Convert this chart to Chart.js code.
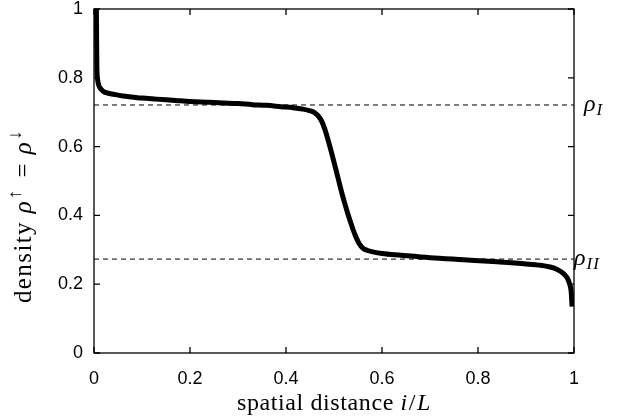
<!DOCTYPE html>
<html>
<head>
<meta charset="utf-8">
<script src="https://cdn.jsdelivr.net/npm/chart.js@4/dist/chart.umd.min.js"></script>
<style>
  html, body { margin: 0; padding: 0; background: #fff; }
  #wrap { width: 618px; height: 418px; }
</style>
</head>
<body>
<div id="wrap"><canvas id="density-chart" width="618" height="418"></canvas></div>
<script>
/*////////////////////////////////
///           Data             ///
////////////////////////////////*/

const posX = [0.005, 0.0055, 0.006, 0.0075, 0.010, 0.014, 0.020, 0.030, 0.045, 0.060, 0.080, 0.100, 0.130,
  0.170, 0.200, 0.240, 0.270, 0.300, 0.330, 0.360, 0.390, 0.415, 0.435, 0.450, 0.460, 0.468, 0.475,
  0.481, 0.4875, 0.495, 0.502, 0.510, 0.517, 0.523, 0.529, 0.537, 0.544, 0.552, 0.560, 0.570, 0.581,
  0.600, 0.640, 0.700, 0.770, 0.840, 0.900, 0.930, 0.950, 0.965, 0.977, 0.986, 0.991, 0.994, 0.996];
const density = [1.0, 0.90, 0.83, 0.795, 0.778, 0.768, 0.760, 0.755, 0.751, 0.747, 0.744, 0.741, 0.738,
  0.734, 0.731, 0.729, 0.727, 0.725, 0.722, 0.720, 0.716, 0.713, 0.709, 0.704, 0.698, 0.688, 0.672,
  0.650, 0.620, 0.582, 0.544, 0.500, 0.462, 0.432, 0.404, 0.370, 0.343, 0.319, 0.305, 0.298, 0.294,
  0.289, 0.284, 0.277, 0.271, 0.265, 0.259, 0.255, 0.250, 0.243, 0.232, 0.218, 0.200, 0.180, 0.135];

const rhoI = 0.721;
const rhoII = 0.273;

const xTicks = [0, 0.2, 0.4, 0.6, 0.8, 1];
const yTicks = [0, 0.2, 0.4, 0.6, 0.8, 1];

const profile = posX.map((x, i) => ({ x: x, y: density[i] }));
const lineI = [{ x: 0, y: rhoI }, { x: 1, y: rhoI }];
const lineII = [{ x: 0, y: rhoII }, { x: 1, y: rhoII }];

const sansFont = '"Liberation Sans", Arial, sans-serif';
const serifFont = '"Liberation Serif", "Times New Roman", serif';

/*////////////////////////////////
///    Frame, ticks, labels    ///
////////////////////////////////*/

function fmt(v) {
  return v === 0 || v === 1 ? String(v) : v.toFixed(1);
}

// draws text pieces [text, size, italic, dy, gap] in a row
function drawPieces(ctx, pieces, x, y) {
  let cx = x;
  pieces.forEach(p => {
    ctx.font = (p[2] ? 'italic ' : '') + p[1] + 'px ' + serifFont;
    ctx.fillText(p[0], cx, y + (p[3] || 0));
    cx += ctx.measureText(p[0]).width + (p[4] || 0);
  });
  return cx;
}

function piecesWidth(ctx, pieces) {
  let w = 0;
  pieces.forEach(p => {
    ctx.font = (p[2] ? 'italic ' : '') + p[1] + 'px ' + serifFont;
    w += ctx.measureText(p[0]).width + (p[4] || 0);
  });
  return w;
}

const framePlugin = {
  id: 'frame',
  afterDraw(chart) {
    const ctx = chart.ctx;
    const area = chart.chartArea;
    const xs = chart.scales.x;
    const ys = chart.scales.y;
    const tl = 6;

    ctx.save();
    ctx.strokeStyle = '#000';
    ctx.lineWidth = 1.3;
    ctx.strokeRect(area.left, area.top, area.right - area.left, area.bottom - area.top);

    ctx.beginPath();
    xTicks.forEach(v => {
      const px = xs.getPixelForValue(v);
      ctx.moveTo(px, area.bottom); ctx.lineTo(px, area.bottom - tl);
      ctx.moveTo(px, area.top); ctx.lineTo(px, area.top + tl);
    });
    yTicks.forEach(v => {
      const py = ys.getPixelForValue(v);
      ctx.moveTo(area.left, py); ctx.lineTo(area.left + tl, py);
      ctx.moveTo(area.right, py); ctx.lineTo(area.right - tl, py);
    });
    ctx.stroke();

    // labels of the two plateau densities
    ctx.fillStyle = '#000';
    ctx.textBaseline = 'alphabetic';
    ctx.textAlign = 'left';
    drawPieces(ctx, [['ρ', 24, true, 0, 1], ['I', 17, true, 4]], 584, ys.getPixelForValue(rhoI) + 6);
    drawPieces(ctx, [['ρ', 24, true, 0, 1], ['I', 17, true, 4, 1], ['I', 17, true, 4]], 574, ys.getPixelForValue(rhoII) + 6);

    // x axis title
    ctx.letterSpacing = '0.6px';
    const xt = [['spatial distance ', 24, false], ['i', 24, true, 0, 1], ['/', 24, false, 0, 1], ['L', 24, true]];
    const xw = piecesWidth(ctx, xt);
    drawPieces(ctx, xt, (area.left + area.right) / 2 - xw / 2, 410);

    // y axis title, rotated
    ctx.letterSpacing = '1.4px';
    const yt = [['density ', 25, false], ['ρ', 25, true, 0, 1], ['↑', 19, false, -10, 3],
      [' = ', 25, false], ['ρ', 25, true, 0, 1], ['↓', 19, false, -10]];
    const yw = piecesWidth(ctx, yt);
    ctx.translate(31, 216);
    ctx.rotate(-Math.PI / 2);
    drawPieces(ctx, yt, -yw / 2, 0);
    ctx.restore();
  }
};

/*////////////////////////////////
///          Chart             ///
////////////////////////////////*/

let canvas = document.getElementById('density-chart').getContext('2d');

let densityChart = new Chart(canvas, {
  type: 'line',
  data: {
    datasets: [{
      label: 'profile',
      data: profile,
      borderColor: '#000',
      borderWidth: 5,
      pointRadius: 0,
      fill: false,
      cubicInterpolationMode: 'monotone',
      borderCapStyle: 'butt'
    }, {
      label: 'rhoI',
      data: lineI,
      borderColor: '#000',
      borderWidth: 1,
      borderDash: [5, 4],
      pointRadius: 0,
      fill: false
    }, {
      label: 'rhoII',
      data: lineII,
      borderColor: '#000',
      borderWidth: 1,
      borderDash: [5, 4],
      pointRadius: 0,
      fill: false
    }]
  },
  options: {
    responsive: false,
    animation: false,
    layout: {
      padding: { top: 9, right: 44, left: 0, bottom: 0 }
    },
    scales: {
      x: {
        type: 'linear',
        min: 0,
        max: 1,
        afterFit: (scale) => { scale.height = 65; scale.paddingLeft = 0; scale.paddingRight = 0; },
        afterBuildTicks: (scale) => { scale.ticks = xTicks.map(v => ({ value: v })); },
        grid: { display: false, drawTicks: false },
        border: { display: false },
        ticks: {
          color: '#000',
          padding: 15,
          font: { family: sansFont, size: 18 },
          callback: (v) => fmt(v)
        }
      },
      y: {
        type: 'linear',
        min: 0,
        max: 1,
        afterFit: (scale) => { scale.width = 94; scale.paddingTop = 0; scale.paddingBottom = 0; },
        afterBuildTicks: (scale) => { scale.ticks = yTicks.map(v => ({ value: v })); },
        grid: { display: false, drawTicks: false },
        border: { display: false },
        ticks: {
          color: '#000',
          padding: 11,
          font: { family: sansFont, size: 18 },
          callback: (v) => fmt(v)
        }
      }
    },
    plugins: {
      legend: { display: false },
      tooltip: { enabled: false }
    }
  },
  plugins: [framePlugin]
});
</script>
</body>
</html>
